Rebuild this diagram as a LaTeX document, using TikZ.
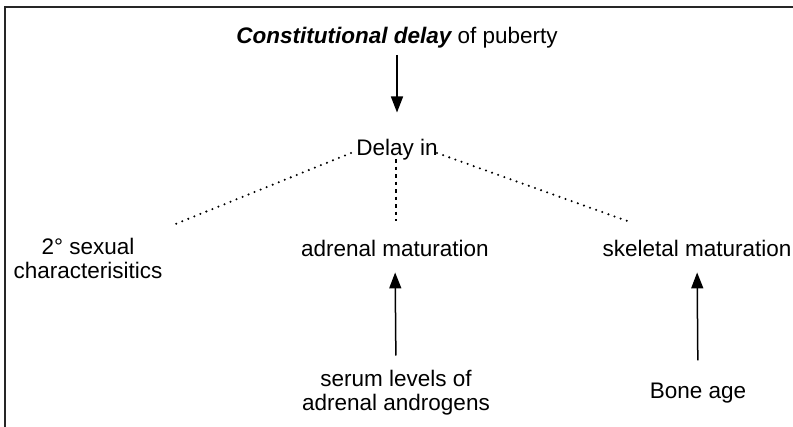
\documentclass[tikz,border=0pt]{standalone}
\usepackage{fontspec}
\setmainfont{Liberation Sans}
\usetikzlibrary{arrows.meta}
\begin{document}
\begin{tikzpicture}[x=1pt,y=-1pt,
  lbl/.style={inner sep=0pt, font=\fontsize{22.5}{24}\selectfont, align=center},
  uparrow/.style={line width=1.5pt, -{Triangle[length=16pt,width=12pt]}},
  dotline/.style={line width=2.3pt, line cap=round, dash pattern=on 0pt off 6.5pt},
  dashline/.style={line width=1.6pt, dash pattern=on 3.5pt off 4pt}]
\useasboundingbox (0,0) rectangle (793,426);
\clip (0,0) rectangle (793,426);
% open frame: only the left and top edges lie inside the page
\draw[line width=2pt, black!85] (5,440) -- (5,7) -- (810,7);

% text nodes (base anchor of a two-line node is its last baseline)
\node[lbl, anchor=base] (title) at (397,43) {{\bfseries\itshape Constitutional delay} of puberty};
\node[lbl, anchor=base] (delay) at (397,155) {Delay in};
\node[lbl, anchor=base] (sexual) at (88,278) {2° sexual\\characterisitics};
\node[lbl, anchor=base] (adrenal) at (395,256) {adrenal maturation};
\node[lbl, anchor=base] (skeletal) at (697,256) {skeletal maturation};
\node[lbl, anchor=base] (serum) at (396,410) {serum levels of\\adrenal androgens};
\node[lbl, anchor=base] (bone) at (698,398) {Bone age};

% ends of the dotted branches
\coordinate (l1) at (351,153);
\coordinate (l2) at (173,225);
\coordinate (m1) at (396,159);
\coordinate (m2) at (396,221);
\coordinate (r1) at (437,153);
\coordinate (r2) at (630,222);

% connectors
\draw[uparrow, shorten <=7pt, shorten >=26pt] (title.south) -- (delay.north);
\draw[dotline] (l1) -- (l2);
\draw[dashline] (m1) -- (m2);
\draw[dotline] (r1) -- (r2);
\draw[uparrow, shorten <=14pt, shorten >=16pt] (serum.north) -- (adrenal.south);
\draw[uparrow, shorten <=22pt, shorten >=16pt] (bone.north) -- (skeletal.south);
\end{tikzpicture}
\end{document}
